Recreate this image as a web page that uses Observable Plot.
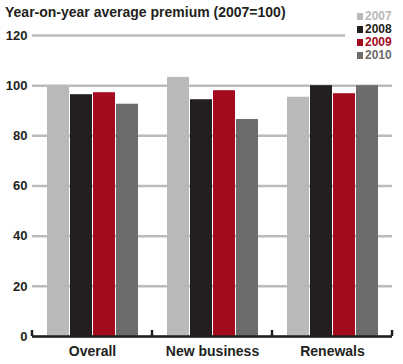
<!DOCTYPE html>
<html>
<head>
<meta charset="utf-8">
<script src="https://cdn.jsdelivr.net/npm/d3@7"></script>
<script src="https://cdn.jsdelivr.net/npm/@observablehq/plot@0.6"></script>
<style>
  html, body { margin: 0; padding: 0; background: #fff; }
  #wrap { position: relative; width: 403px; height: 364px; font-family: "Liberation Sans", Arial, sans-serif; color: #231f20; }
  #title { position: absolute; left: 5px; top: 6px; font-size: 14px; font-weight: bold; line-height: 13px; white-space: nowrap; }
  #legend { position: absolute; left: 345px; top: 8px; width: 58px; height: 52px; background: #fff; padding-top: 2px; box-sizing: border-box; }
  .li { font-size: 12px; font-weight: bold; line-height: 13px; padding-left: 12px; white-space: nowrap; }
  .sw { display: inline-block; width: 6px; height: 7px; margin-right: 2px; }
  svg { position: absolute; left: 0; top: 0; }
</style>
</head>
<body>
<div id="wrap">
  <div id="chart"></div>
  <div id="title">Year-on-year average premium (2007=100)</div>
  <div id="legend"></div>
</div>
<script>
const categories = ["Overall", "New business", "Renewals"];
const years = ["2007", "2008", "2009", "2010"];
const colors = ["#b9b9b9", "#231f20", "#a50b1e", "#6d6b6b"];
const values2007 = [100, 103.3, 95.4];
const values2008 = [96.4, 94.4, 100];
const values2009 = [97.2, 98, 96.8];
const values2010 = [92.6, 86.5, 100];
const yTicks = [0, 20, 40, 60, 80, 100, 120];

const series = [values2007, values2008, values2009, values2010];
const data = [];
categories.forEach((c, i) => years.forEach((yr, j) => data.push({category: c, year: yr, value: series[j][i]})));

const plot = Plot.plot({
  width: 403,
  height: 364,
  marginLeft: 32,
  marginRight: 11,
  marginTop: 35,
  marginBottom: 28,
  style: {fontFamily: "Liberation Sans, Arial, sans-serif", color: "#231f20", background: "transparent"},
  fx: {domain: categories, padding: 0, label: null},
  x: {domain: years, paddingInner: 0.055, paddingOuter: 0.53, axis: null},
  y: {domain: [0, 120], label: null},
  color: {domain: years, range: colors},
  marks: [
    Plot.gridY(yTicks, {stroke: "#bcbcbc", strokeWidth: 2.5, strokeOpacity: 1}),
    Plot.barY(data, {fx: "category", x: "year", y: "value", fill: "year"}),
    Plot.ruleY([0], {stroke: "#231f20", strokeWidth: 2.5}),
    Plot.axisY(yTicks, {tickSize: 0, tickPadding: 5, fontSize: 13, fontWeight: "bold", label: null}),
    Plot.axisFx({anchor: "bottom", tickSize: 0, tickPadding: 10, fontSize: 14, fontWeight: "bold", label: null})
  ]
});
document.getElementById("chart").appendChild(plot);

// group separator ticks from Plot's own scales
const fx = plot.scale("fx");
const ys = plot.scale("y");
const y0 = ys.apply(0);
const last = categories[categories.length - 1];
const edges = categories.map(c => fx.apply(c)).concat([fx.apply(last) + fx.bandwidth]);
d3.select(plot).append("g").selectAll("line").data(edges).join("line")
  .attr("x1", d => d).attr("x2", d => d)
  .attr("y1", y0 - 6).attr("y2", y0)
  .attr("stroke", "#231f20").attr("stroke-width", 2.5);

const legend = d3.select("#legend");
years.forEach((yr, j) => {
  const row = legend.append("div").attr("class", "li").style("color", colors[j]);
  row.append("span").attr("class", "sw").style("background", colors[j]);
  row.append("span").text(yr);
});
</script>
</body>
</html>
